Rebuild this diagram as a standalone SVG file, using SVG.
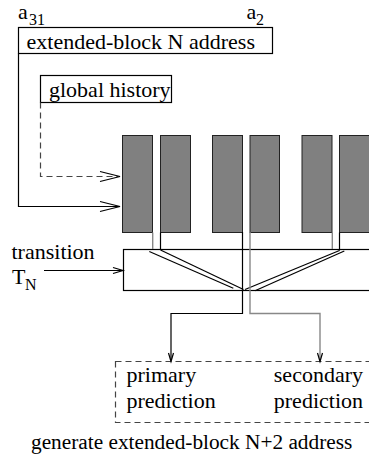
<svg xmlns="http://www.w3.org/2000/svg" width="369" height="459" viewBox="0 0 369 459">
<style>
text{font-family:"Times New Roman","Liberation Serif",Times,"DejaVu Serif",serif;font-size:22px;fill:#000}
.sub{font-size:16px}
.box{fill:none;stroke:#000;stroke-width:1.2}
.blk{fill:#808080;stroke:#222;stroke-width:1}
.ln{fill:none;stroke:#000;stroke-width:1.2}
.gl{fill:none;stroke:#888;stroke-width:1.4}
.dash{fill:none;stroke:#444;stroke-width:1.2;stroke-dasharray:6,4}
</style>
<rect width="369" height="459" fill="#fff"/>
<g id="labels-top">
<text x="18" y="19">a</text><text class="sub" x="29" y="25">31</text>
<text x="246.5" y="19">a</text><text class="sub" x="256" y="25">2</text>
</g>
<g id="address">
<rect class="box" x="18.5" y="27.5" width="254" height="26"/>
<text x="26.5" y="49">extended-block N address</text>
</g>
<g id="global-history">
<rect class="box" x="40.5" y="75.5" width="131" height="27"/>
<text x="49" y="97">global history</text>
</g>
<g id="tables">
<rect class="blk" x="122.5" y="135.5" width="30" height="97"/>
<rect class="blk" x="160.5" y="135.5" width="30" height="97"/>
<rect class="blk" x="212.5" y="135.5" width="30" height="97"/>
<rect class="blk" x="250" y="135.5" width="29.5" height="97"/>
<rect class="blk" x="302" y="135.5" width="30" height="97"/>
<rect class="blk" x="339.5" y="135.5" width="30" height="97"/>
</g>
<g id="transition-box">
<rect class="box" x="123.5" y="249.5" width="250" height="41"/>
</g>
<g id="transition-label">
<text x="11.5" y="258.5">transition</text>
<text x="12" y="283.5">T</text><text class="sub" x="25" y="290">N</text>
</g>
<g id="prediction">
<rect class="dash" x="115.5" y="361.5" width="262" height="61"/>
<text x="126.5" y="381.5">primary</text>
<text x="126.5" y="408">prediction</text>
<text x="363" y="381.5" text-anchor="end">secondary</text>
<text x="363" y="408" text-anchor="end">prediction</text>
</g>
<g id="footer">
<text x="31" y="449" style="font-size:21.3px">generate extended-block N+2 address</text>
</g>
<g id="connectors">
<path class="ln" d="M18.5,53.5 V206.5 H119"/>
<path class="ln" d="M100,201.5 L120,206.5 L100,211.5"/>
<path class="dash" d="M40.5,102.5 V176.5 H118"/>
<path class="ln" d="M100,171.5 L120,176.5 L100,181.5"/>
<path class="ln" d="M44,270.5 H122"/>
<path class="ln" d="M113,267.5 L123,270.5 L113,273.5"/>
<path class="gl" d="M152.7,232.5 V249"/>
<path class="ln" d="M160.5,232.5 V250"/>
<path class="ln" d="M149.3,251.5 L233.3,288.3"/>
<path class="ln" d="M160.5,250 L243.5,289.5"/>
<path class="gl" d="M332.3,232.5 V249"/>
<path class="ln" d="M339.5,232.5 V250.5"/>
<path class="ln" d="M339.5,250.5 L245,289.5"/>
<path class="ln" d="M344.3,251 L255,290.7"/>
<path class="ln" d="M242.5,232 V313.5 H171 V360"/>
<path class="ln" d="M168.5,353 L171,361.5 L173.5,353"/>
<path class="gl" d="M250,232 V313.5 H320 V360"/>
<path class="ln" d="M317.5,353 L320,361.5 L322.5,353"/>
</g>
</svg>
